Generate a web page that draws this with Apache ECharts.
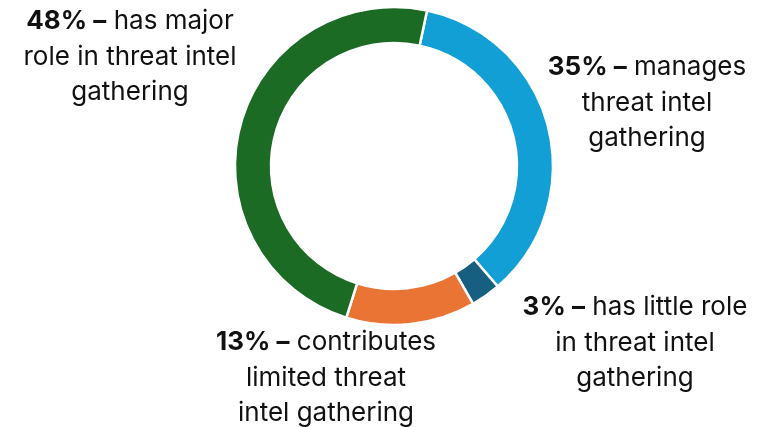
<!DOCTYPE html>
<html>
<head>
<meta charset="utf-8">
<script src="https://cdn.jsdelivr.net/npm/echarts@6/dist/echarts.min.js"></script>
<style>
  html, body { margin: 0; padding: 0; background: #ffffff; }
  #chart { width: 770px; height: 427px; }
</style>
</head>
<body>
<div id="chart"></div>
<script>
// Share of respondents by role in threat intelligence gathering
const roles = [
  'manages threat intel\ngathering',
  'has little role\nin threat intel\ngathering',
  'contributes\nlimited threat\nintel gathering',
  'has major\nrole in threat intel\ngathering'
];
const shares = [35, 3, 13, 48];
const sliceColors = ['#129fd6', '#175f80', '#ea7433', '#1b6b25'];

// Label block centres (px) for each slice
const labelAnchors = [[647, 103], [635, 343], [326, 378], [130, 57]];

// Line breaks for the descriptive part of each label
const labelTexts = [
  '{b|35% –}{n| manages}\n{n|threat intel}\n{n|gathering}',
  '{b|3% –}{n| has little role}\n{n|in threat intel}\n{n|gathering}',
  '{b|13% –}{n| contributes}\n{n|limited threat}\n{n|intel gathering}',
  '{b|48% –}{n| has major}\n{n|role in threat intel}\n{n|gathering}'
];

const chart = echarts.init(document.getElementById('chart'));
const FONT = 'Inter';
chart.setOption({
  animation: false,
  backgroundColor: '#ffffff',
  series: [{
    type: 'pie',
    center: [394, 166],
    radius: [123, 159],
    startAngle: 78,
    clockwise: true,
    avoidLabelOverlap: false,
    itemStyle: { borderColor: '#ffffff', borderWidth: 2.5 },
    labelLine: { show: false },
    label: {
      show: true,
      position: 'outside',
      formatter: p => labelTexts[p.dataIndex],
      align: 'center',
      rich: {
        b: { fontFamily: FONT, fontWeight: 'bold', fontSize: 26, color: '#111111', lineHeight: 35.5 },
        n: { fontFamily: FONT, fontWeight: 'normal', fontSize: 26, color: '#111111', lineHeight: 35.5 }
      }
    },
    labelLayout: p => ({
      x: labelAnchors[p.dataIndex][0],
      y: labelAnchors[p.dataIndex][1],
      align: 'center',
      verticalAlign: 'middle',
      hideOverlap: false
    }),
    emphasis: { disabled: true },
    data: roles.map((name, i) => ({
      name: name,
      value: shares[i],
      itemStyle: { color: sliceColors[i] }
    }))
  }]
});
</script>
</body>
</html>
